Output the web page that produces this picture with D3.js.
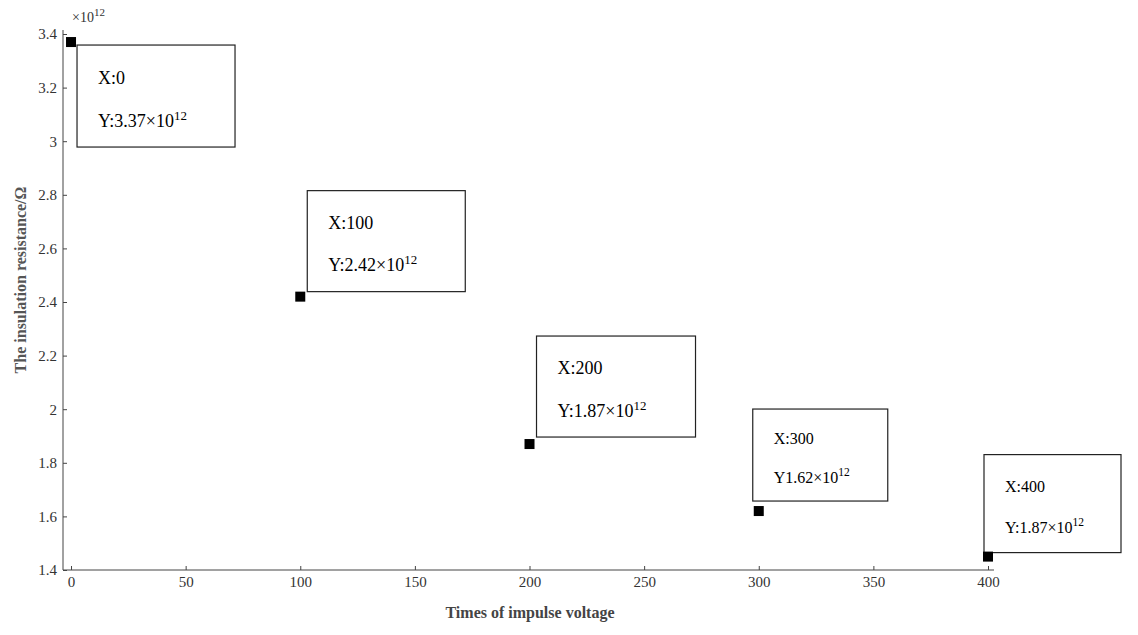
<!DOCTYPE html>
<html><head><meta charset="utf-8">
<script src="https://cdn.jsdelivr.net/npm/d3@7"></script>
<style>body{margin:0;background:#fff}text{font-family:"Liberation Serif",serif}</style>
</head><body><svg id="c" width="1138" height="635"></svg>
<script>
const times = [0, 100, 200, 300, 400];
const resistance = [3.37, 2.42, 1.87, 1.62, 1.45];
const labelX = ['X:0', 'X:100', 'X:200', 'X:300', 'X:400'];
const labelY = ['Y:3.37×10', 'Y:2.42×10', 'Y:1.87×10', 'Y1.62×10', 'Y:1.87×10'];
const xTicks = [0, 50, 100, 150, 200, 250, 300, 350, 400];
const yTicks = [1.4, 1.6, 1.8, 2, 2.2, 2.4, 2.6, 2.8, 3, 3.2, 3.4];

const svg = d3.select('#c');
const x = d3.scaleLinear().domain([-3.5, 400]).range([63, 988]);
const y = d3.scaleLinear().domain([1.4, 3.4]).range([570, 34]);

const gx = svg.append('g').attr('transform', 'translate(0,570)')
  .call(d3.axisBottom(x).tickValues(xTicks).tickSize(-4).tickSizeOuter(0).tickPadding(6));
gx.select('.domain').attr('d', 'M63,0H994');
const gy = svg.append('g').attr('transform', 'translate(63,0)')
  .call(d3.axisLeft(y).tickValues(yTicks).tickFormat(d3.format('')).tickSize(-4).tickSizeOuter(0).tickPadding(6));
gy.select('.domain').attr('d', 'M0,570V30');
svg.selectAll('.tick text').attr('font-size', 15).attr('fill', '#333').attr('font-family', 'Liberation Serif');
svg.selectAll('.domain,.tick line').attr('stroke', '#444');

const sc = svg.append('text').attr('x', 72).attr('y', 22).attr('font-size', 14).attr('fill', '#333');
sc.append('tspan').text('×10');
sc.append('tspan').attr('dy', -6).attr('font-size', 11).text('12');

svg.append('text').attr('x', 530).attr('y', 618).attr('text-anchor', 'middle')
  .attr('font-size', 16).attr('font-weight', 'bold').attr('fill', '#444').text('Times of impulse voltage');
svg.append('text').attr('transform', 'translate(26,280) rotate(-90)').attr('text-anchor', 'middle')
  .attr('font-size', 16).attr('font-weight', 'bold').attr('fill', '#555').text('The insulation resistance/Ω');

// annotation boxes: offset from point, size
const boxes = [[6, 3, 158, 102], [7, -106, 158, 101], [7, -108, 159, 101], [-6, -102, 135, 92], [-4, -102, 137, 98]];
times.forEach((t, i) => {
  const px = x(t), py = y(resistance[i]);
  const [dx, dy, w, h] = boxes[i];
  const bx = px + dx, by = py + dy;
  svg.append('rect').attr('x', bx).attr('y', by).attr('width', w).attr('height', h)
    .attr('fill', '#fff').attr('stroke', '#222').attr('stroke-width', 1.2);
  const fs = i >= 3 ? 16 : 18;
  svg.append('text').attr('x', bx + 21).attr('y', by + h * 0.38).attr('font-size', fs).text(labelX[i]);
  const ty = svg.append('text').attr('x', bx + 21).attr('y', by + h * 0.8).attr('font-size', fs);
  ty.append('tspan').text(labelY[i]);
  ty.append('tspan').attr('dy', -7).attr('font-size', fs * 0.72).text('12');
});

svg.selectAll('rect.pt').data(times).join('rect').attr('class', 'pt')
  .attr('x', d => x(d) - 5).attr('y', (d, i) => y(resistance[i]) - 5)
  .attr('width', 10).attr('height', 10).attr('fill', '#000');
</script></body></html>
